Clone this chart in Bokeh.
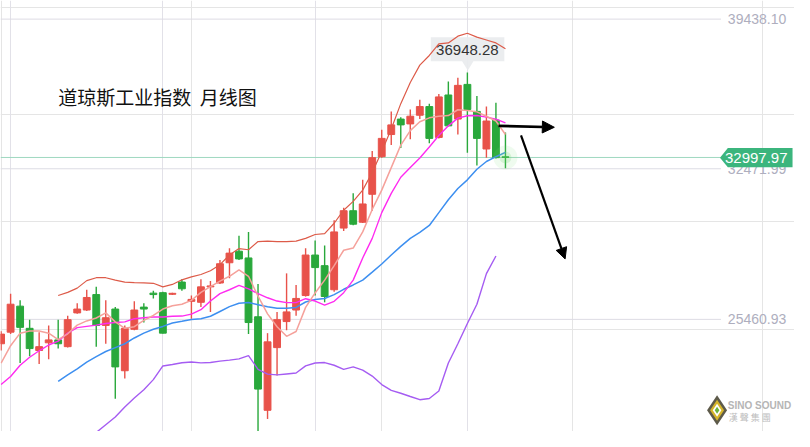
import math
from bokeh.plotting import figure
from bokeh.models import Range1d, ColumnDataSource, Grid, FixedTicker, Arrow, NormalHead
from bokeh.core.properties import value
from bokeh.embed import file_html
from bokeh.resources import INLINE

# ---------------- data (monthly candles, index = month slot) ----------------
opens = [24325, 24864, 26076, 25044, 24011, 24370, 24505, 24191, 25762, 25896,
         26615, 25178, 25941, 23069, 24999, 26031, 26682, 26704, 26628, 27198,
         26300, 26255, 26974, 27153, 28096, 28634, 28320, 25582, 21228, 24146,
         25358, 25896, 26570, 28455, 27961, 26839, 29711, 30519, 29981, 31283,
         33033, 34065, 34784, 34559, 34963, 35367, 33931, 35906, 34784, 36399,
         35143, 33392, 34739, 33030]
highs = [24909, 26659, 26345, 25448, 24864, 25178, 25448, 25627, 26211, 26839,
         26974, 26345, 26031, 25178, 26300, 26211, 26794, 26749, 26704, 27333,
         26570, 27333, 27243, 28230, 28769, 29352, 29532, 27108, 24819, 25807,
         27602, 27063, 28769, 29128, 28903, 30070, 30654, 31327, 31956, 33302,
         34290, 35143, 34873, 35232, 35681, 35502, 35951, 36533, 36713, 36948.28,
         35861, 35367, 35547, 34155]
lows = [24011, 24774, 23428, 23742, 23383, 23607, 24101, 24146, 25717, 25851,
        24191, 24325, 21767, 22710, 24954, 25313, 26435, 24800, 26592, 26794,
        25492, 26031, 25807, 27110, 27378, 28230, 24774, 18500, 20824, 22844,
        24954, 25627, 26520, 26570, 26255, 26749, 29577, 29846, 29950, 30519,
        32990, 33572, 33437, 33841, 34784, 33661, 33886, 34450, 34065, 33213,
        32628, 32987, 32950, 32494]
closes = [24774, 26166, 25088, 24101, 24191, 24505, 24325, 25448, 25941, 26480,
          25178, 25537, 23248, 25044, 25896, 25941, 26615, 24819, 26673, 26884,
          26390, 26974, 27018, 28051, 28545, 28275, 25313, 22216, 24415, 25448,
          25807, 26435, 28455, 27871, 26525, 29532, 30519, 29891, 30833, 32988,
          33886, 34514, 34514, 34918, 35367, 33886, 35816, 34469, 36354, 35232,
          33886, 34694, 32988, 32997.97]

NAN = float("nan")
ma_fast = [23428, 24236, 24819, 24922, 24922, 24819, 24518, 24788, 25192, 25389,
           25524, 25762, 25344, 25044, 25120, 25416, 25641, 25941, 26098, 26166,
           26345, 26718, 26987, 27243, 27467, 27768, 27467, 26538, 25717, 25120,
           24671, 24895, 26018, 26691, 27288, 27961, 28679, 28782, 29532, 30578,
           31476, 32526, 33572, 34245, 34662, 34842, 34918, 34950, 35219, 35188,
           35120, 34918, 34694, 34065]
ma_mid = [22427, 22799, 23324, 23697, 23998, 24267, 24447, 24819, 25075, 25133,
          25192, 25268, 25313, 25344, 25492, 25537, 25569, 25569, 25605, 25614,
          25703, 25910, 26314, 26659, 26839, 27041, 26884, 26659, 26466, 26314,
          26242, 26242, 26422, 26314, 26121, 26300, 26704, 27288, 28320, 29231,
          30430, 31327, 32077, 32526, 32975, 33482, 34021, 34469, 34828, 34941,
          34950, 34873, 34784, 34604]
ma_slow = [NAN] * 6 + [
          22575, 22876, 23158, 23473, 23728, 23966, 24146, 24325, 24595, 24819,
          24999, 25133, 25290, 25371, 25456, 25492, 25605, 25829, 26053, 26211,
          26242, 26143, 26044, 25973, 25973, 26018, 26269, 26390, 26435, 26615,
          26861, 27063, 27288, 27660, 28037, 28455, 28859, 29231, 29510, 29833,
          30430, 31027, 31552, 31956, 32450, 32809, 33033, 33235]
band_up = [NAN] * 6 + [
          26570, 26718, 26915, 27265, 27400, 27400, 27288, 27198, 27167, 27162,
          27140, 26974, 27086, 27301, 27436, 27548, 27723, 28006, 28455, 28756,
          28702, 29083, 29106, 29083, 29083, 29106, 29231, 29411, 29456, 29936,
          30542, 30955, 31476, 32301, 33271, 34321, 35502, 36489, 37297, 37746,
          38285, 38330, 38644, 38778, 38599, 38464, 38330, 38060]
band_low = [NAN] * 9 + [
          19568, 20196, 20555, 20914, 21385, 21798, 22184, 22656, 23293, 23360,
          23441, 23473, 23437, 23450, 23517, 23562, 23621, 23773, 23136, 22912,
          22876, 22920, 22965, 23293, 23428, 23450, 23324, 23136, 23248, 23100,
          22822, 22427, 22157, 22023, 21870, 21722, 21780, 22126, 23428, 24325,
          25268, 26166, 27589, 28410]

tick_values = [39438.10, 32471.99, 25460.93]
tick_labels = ["39438.10", "32471.99", "25460.93"]
vgrid_slots = [1, 17, 33, 49]
last_price = 32997.97
last_label = "32997.97"
peak_label = "36948.28"
peak_slot = 49
title_text = "道琼斯工业指数\u00a0\u00a0月线图"

# ---------------- layout helpers (reference pixels -> data) ----------------
def px2x(px):
    return (px - 0.6) / 9.708

def py2y(py):
    return 40304.4 - 44.885 * py

W, H = 794, 431
p = figure(width=W, height=H, output_backend="svg", toolbar_location=None,
           x_range=Range1d(px2x(0), px2x(810)), y_range=Range1d(py2y(447), py2y(0)),
           x_axis_location=None, y_axis_location=None, min_border=0,
           background_fill_color="white", border_fill_color="white")
p.outline_line_color = None

# vertical grid
vg = Grid(dimension=0, ticker=FixedTicker(ticks=vgrid_slots),
          grid_line_color="#e2e1e8", grid_line_width=1)
p.add_layout(vg)

# horizontal grid lines stopping before the price labels
gx0 = px2x(0)
gx1 = px2x(735)
p.segment(x0=[gx0] * len(tick_values), x1=[gx1] * len(tick_values),
          y0=tick_values, y1=tick_values, line_color="#dddce4", line_width=1)
p.text(x=[px2x(742)] * len(tick_values), y=tick_values, text=tick_labels,
       text_font=value("Liberation Sans"), text_font_size="14px",
       text_color="#aeaebe", text_align="left", text_baseline="middle")

# current price line
p.segment(x0=[gx0], x1=[px2x(736)], y0=[last_price], y1=[last_price],
          line_color="#9ed8c0", line_width=1)

# peak label box (drawn below the lines)
bx0, bx1, by0, by1 = 439, 514, 38, 63
p.patch(x=[px2x(bx0), px2x(bx1), px2x(bx1), px2x(482.5), px2x(476.7), px2x(470.9), px2x(bx0)],
        y=[py2y(by0), py2y(by0), py2y(by1), py2y(by1), py2y(72.5), py2y(by1), py2y(by1)],
        fill_color="#e9ebee", fill_alpha=0.92, line_color=None)
p.text(x=[peak_slot], y=[py2y(51)], text=[peak_label],
       text_font=value("Liberation Sans"), text_font_size="15px",
       text_color="#333333", text_align="center", text_baseline="middle")

# candles
idx = list(range(len(opens)))
up_col, dn_col = "#e8524a", "#29a83b"
colors = [up_col if c >= o else dn_col for o, c in zip(opens, closes)]
src = ColumnDataSource(dict(x=idx, o=opens, h=highs, l=lows, c=closes,
                            top=[max(o, c) for o, c in zip(opens, closes)],
                            bot=[min(o, c) for o, c in zip(opens, closes)],
                            col=colors))
p.segment(x0="x", x1="x", y0="h", y1="l", line_color="col", line_width=1.4, source=src)
p.vbar(x="x", width=0.72, top="top", bottom="bot", fill_color="col",
       line_color="col", line_width=1, source=src)

# indicator lines
p.line(idx, band_low, line_color="#a55cf2", line_width=1.4)
p.line(idx, ma_slow, line_color="#3d8ff0", line_width=1.5)
p.line(idx, ma_mid, line_color="#ff2bf0", line_width=1.4)
p.line(idx, ma_fast, line_color="#f5a19b", line_width=1.5)
p.line(idx, band_up, line_color="#dd5b49", line_width=1.2)

# glow on last price
last_i = idx[-1]
p.scatter([last_i], [last_price], size=24, color="#7fe07f", alpha=0.12, line_color=None)
p.scatter([last_i], [last_price], size=12, color="#6ad86a", alpha=0.2, line_color=None)

# arrows
p.add_layout(Arrow(end=NormalHead(size=12, fill_color="black", line_color="black"),
                   x_start=px2x(508), y_start=py2y(130), x_end=px2x(565), y_end=py2y(131.5),
                   line_color="black", line_width=2.6))
p.add_layout(Arrow(end=NormalHead(size=11, fill_color="black", line_color="black"),
                   x_start=px2x(531), y_start=py2y(140), x_end=px2x(576), y_end=py2y(268),
                   line_color="black", line_width=2.2))

# green price tag
tx0, tx1, ty0, ty1, tip = 742, 808, 153, 173, 734
p.patch(x=[px2x(tip), px2x(tx0), px2x(tx1), px2x(tx1), px2x(tx0)],
        y=[py2y(163), py2y(ty0), py2y(ty0), py2y(ty1), py2y(ty1)],
        fill_color="#3bb57d", line_color=None)
p.text(x=[px2x(771)], y=[py2y(163.5)], text=[last_label],
       text_font=value("Liberation Sans"), text_font_size="15px",
       text_color="white", text_align="center", text_baseline="middle")

# title
p.text(x=[px2x(59)], y=[py2y(100)], text=[title_text],
       text_font=value("Noto Sans CJK SC"), text_font_size="19px",
       text_color="#111111", text_align="left", text_baseline="middle")

# logo
lx, ly = px2x(731), py2y(425)
p.scatter([lx], [ly], marker="diamond", size=30, color="#5d5a4a", line_color=None)
p.scatter([lx], [ly], marker="diamond", size=21, color="#d6b52a", line_color=None)
p.scatter([lx], [ly], marker="diamond", size=13, color="white", line_color=None)
p.scatter([lx], [ly], marker="diamond", size=7, color="#6bb33a", line_color=None)
p.text(x=[px2x(742)], y=[py2y(420)], text=["SINO SOUND"],
       text_font=value("Liberation Sans"), text_font_size="10px", text_font_style="bold",
       text_color="#b5b5b5", text_align="left", text_baseline="middle")
p.text(x=[px2x(743)], y=[py2y(432)], text=["漢 聲 集 團"],
       text_font=value("Noto Sans CJK TC"), text_font_size="9px",
       text_color="#bdbdbd", text_align="left", text_baseline="middle")

open("out.html", "w").write(file_html(p, INLINE))
